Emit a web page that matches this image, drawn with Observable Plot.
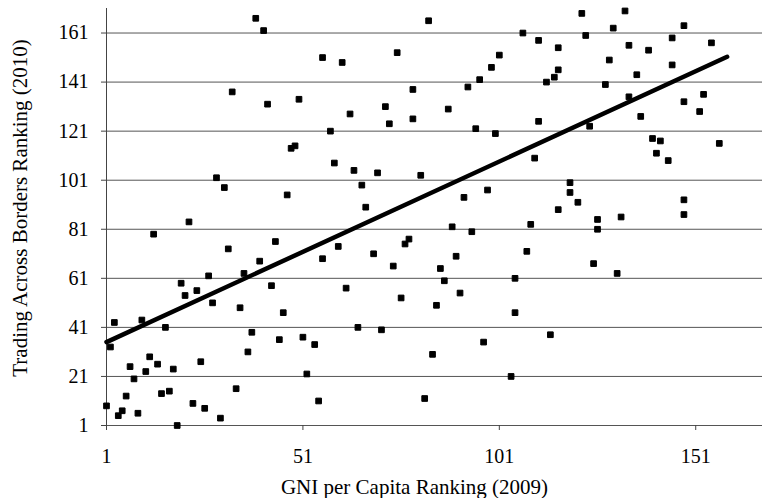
<!DOCTYPE html>
<html><head><meta charset="utf-8">
<script src="https://cdn.jsdelivr.net/npm/d3@7"></script>
<script src="https://cdn.jsdelivr.net/npm/@observablehq/plot@0.6"></script>
<style>body{margin:0;background:#fff}</style>
</head><body><div id="chart"></div>
<script>
// GNI per Capita Ranking (2009)
const gniRank = [39,41,33,42,29,31,22,56,61,75,79,50,63,72,73,79,58,48,49,59,64,70,81,47,66,67,
  83,122,107,111,116,123,101,99,96,93,116,115,113,88,111,95,100,110,92,98,119,119,121,116,
  133,130,148,134,139,145,155,129,136,145,128,134,148,153,152,137,124,140,142,141,144,157,126,132,148,148,126,125,131,
  13,32,40,36,27,20,21,24,28,35,3,10,16,38,37,2,12,14,25,7,11,18,8,34,6,15,17,1,4,5,9,23,26,30,19,
  44,56,60,69,74,77,78,43,62,76,46,65,71,45,51,54,52,55,82,
  89,94,109,90,108,86,87,105,91,85,105,114,97,84,104];
// Trading Across Borders Ranking (2010)
const tabRank = [167,162,137,132,102,98,84,151,149,153,138,134,128,131,124,126,121,114,115,108,105,104,103,95,99,90,
  166,169,161,158,155,160,152,147,142,139,146,143,141,130,125,122,120,110,94,97,100,96,92,89,
  170,163,164,156,154,159,157,150,144,148,140,135,133,136,129,127,123,118,117,112,109,116,85,86,93,87,81,67,63,
  79,73,68,63,62,59,54,56,51,49,43,44,41,39,31,33,29,26,27,25,23,24,20,16,13,14,15,9,5,7,6,10,8,4,1,
  76,69,74,71,66,75,77,58,57,53,47,41,40,36,37,34,22,11,12,
  82,80,83,70,72,65,60,61,55,50,47,38,35,30,21];
// tick labels
const xTicks = [1, 51, 101, 151];
const yTicks = [1, 21, 41, 61, 81, 101, 121, 141, 161];
// axis titles
const xTitle = ["GNI per Capita Ranking (2009)"];
const yTitle = ["Trading Across Borders Ranking (2010)"];
// linear trend line end points
const trendX = [1, 159];
const trendY = [35, 151.3];

const points = gniRank.map((x, i) => ({x, y: tabRank[i]}));
const trend = trendX.map((x, i) => ({x, y: trendY[i]}));

const chart = Plot.plot({
  width: 762,
  height: 498,
  marginLeft: 106,
  marginRight: 0,
  marginTop: 8,
  marginBottom: 73,
  style: {fontFamily: "'Liberation Serif', 'Times New Roman', serif", fontSize: "20px", background: "#fff", color: "#000"},
  x: {domain: [1, 168]},
  y: {domain: [1, 171]},
  marks: [
    Plot.gridY(yTicks, {stroke: "#555", strokeOpacity: 1, strokeWidth: 1}),
    Plot.ruleX([1], {stroke: "#444", strokeWidth: 1}),
    Plot.axisY(yTicks, {tickSize: 5, tickPadding: 13, stroke: "#444", fill: "#000", label: null}),
    Plot.axisX(xTicks, {tickSize: 5, tickPadding: 18, stroke: "#444", fill: "#000", label: null}),
    Plot.text(xTitle, {frameAnchor: "bottom", lineAnchor: "bottom", textAnchor: "middle", dy: 68, dx: -20, fontSize: 21, fill: "#000"}),
    Plot.text(yTitle, {frameAnchor: "left", lineAnchor: "top", textAnchor: "middle", rotate: -90, dx: -94, dy: -9, fontSize: 21, fill: "#000"}),
    Plot.line(trend, {x: "x", y: "y", stroke: "#000", strokeWidth: 4.5}),
    Plot.dot(points, {x: "x", y: "y", symbol: "square", r: 3.2, fill: "#000", stroke: "#000", strokeWidth: 1, strokeLinejoin: "round"})
  ]
});
document.getElementById("chart").append(chart);
</script>
</body></html>
